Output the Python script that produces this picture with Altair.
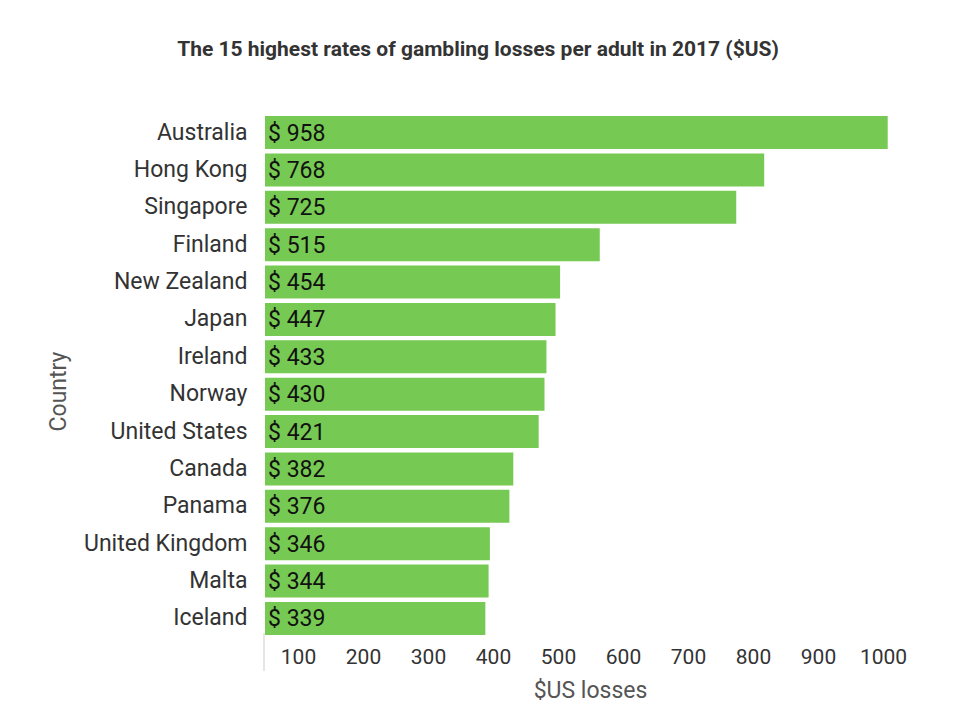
import altair as alt
import pandas as pd

countries = ["Australia", "Hong Kong", "Singapore", "Finland", "New Zealand", "Japan",
             "Ireland", "Norway", "United States", "Canada", "Panama", "United Kingdom",
             "Malta", "Iceland"]
losses = [958, 768, 725, 515, 454, 447, 433, 430, 421, 382, 376, 346, 344, 339]
tick_values = [100, 200, 300, 400, 500, 600, 700, 800, 900, 1000]

df = pd.DataFrame({"Country": countries, "Losses": losses})
df["Label"] = ["$ " + str(v) for v in losses]

FONT = "Roboto"

y_enc = alt.Y("Country:N", sort=countries,
              scale=alt.Scale(paddingInner=0.12, paddingOuter=0.03),
              axis=alt.Axis(title="Country", domain=False, ticks=False, labelPadding=18,
                            labelFontSize=23, labelColor="#333333", labelFont=FONT,
                            titleFontSize=23, titleColor="#555555", titleFont=FONT,
                            titleFontWeight="normal", titleAngle=-90,
                            titleX=-195, titleY=276, titleBaseline="bottom",
                            titleAlign="center"))

x_enc = alt.X("Losses:Q", scale=alt.Scale(domain=[0, 1000], nice=False),
              axis=alt.Axis(title="$US losses", values=tick_values, format="d",
                            domain=False, ticks=False,
                            grid=False, labelOffset=-32, labelPadding=10, labelFontSize=21,
                            labelOverlap=False, labelFlush=False,
                            labelColor="#333333", labelFont=FONT, titleFontSize=23,
                            titleColor="#555555", titleFont=FONT, titleFontWeight="normal",
                            titlePadding=12))

bars = alt.Chart(df).mark_bar(color="#76c952").encode(x=x_enc, y=y_enc)

labels = alt.Chart(df).mark_text(align="left", baseline="middle", dx=3, dy=1, fontSize=23,
                                 font=FONT, fontWeight="normal", color="#111111").encode(
    x=alt.value(0), y=alt.Y("Country:N", sort=countries), text="Label:N")

rule = alt.Chart(df).mark_rule(color="#e6e6e6", strokeWidth=1.5).encode(
    x=alt.value(-1), y=alt.value(518), y2=alt.value(556))

chart = alt.layer(bars, labels, rule).properties(
    width=650, height=521,
    title=alt.TitleParams("The 15 highest rates of gambling losses per adult in 2017 ($US)",
                          font=FONT, fontSize=21, fontWeight="bold", color="#333333",
                          dx=-112, offset=55),
    autosize=alt.AutoSizeParams(type="none"),
    padding={"left": 257, "top": 107, "right": 20, "bottom": 80},
).configure_view(stroke=None)

chart.save("out.html", embed_options={"renderer": "svg", "actions": False})
